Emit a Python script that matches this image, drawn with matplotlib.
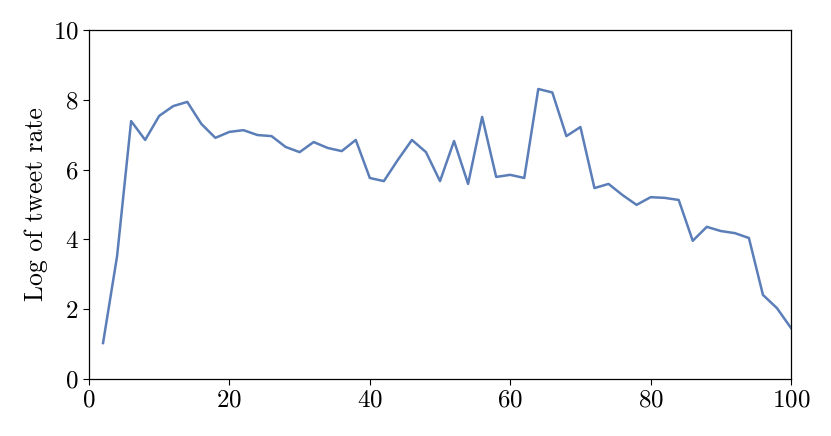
import matplotlib
matplotlib.use("Agg")
import matplotlib.pyplot as plt

plt.rcParams['font.family'] = 'serif'
plt.rcParams['font.serif'] = ['cmr10']
plt.rcParams['mathtext.fontset'] = 'cm'
plt.rcParams['axes.formatter.use_mathtext'] = True

x = list(range(2, 101, 2))
log_rate = [1.03, 3.52, 7.39, 6.85, 7.54, 7.82, 7.94, 7.31, 6.91, 7.08,
            7.13, 6.99, 6.96, 6.65, 6.50, 6.79, 6.62, 6.53, 6.85, 5.76,
            5.67, 6.28, 6.85, 6.50, 5.67, 6.82, 5.59, 7.51, 5.79, 5.85,
            5.76, 8.31, 8.21, 6.96, 7.22, 5.47, 5.59, 5.27, 4.99, 5.21,
            5.19, 5.13, 3.96, 4.36, 4.24, 4.18, 4.04, 2.41, 2.03, 1.46]

fig = plt.figure(figsize=(8.31, 4.36), dpi=100)
ax = fig.add_axes([0.1071, 0.1307, 0.8448, 0.8005])
ax.plot(x, log_rate, color='#5b7eb8', linewidth=1.8)
ax.set_xlim(0, 100)
ax.set_ylim(0, 10)
ax.set_xticks([0, 20, 40, 60, 80, 100])
ax.set_yticks([0, 2, 4, 6, 8, 10])
ax.tick_params(axis='both', which='both', direction='out', labelsize=18,
               top=False, right=False, length=4, width=0.8)
ax.set_ylabel('Log of tweet rate', fontsize=18.5, labelpad=3)
for s in ax.spines.values():
    s.set_linewidth(0.9)
fig.savefig('out.png', dpi=100)
